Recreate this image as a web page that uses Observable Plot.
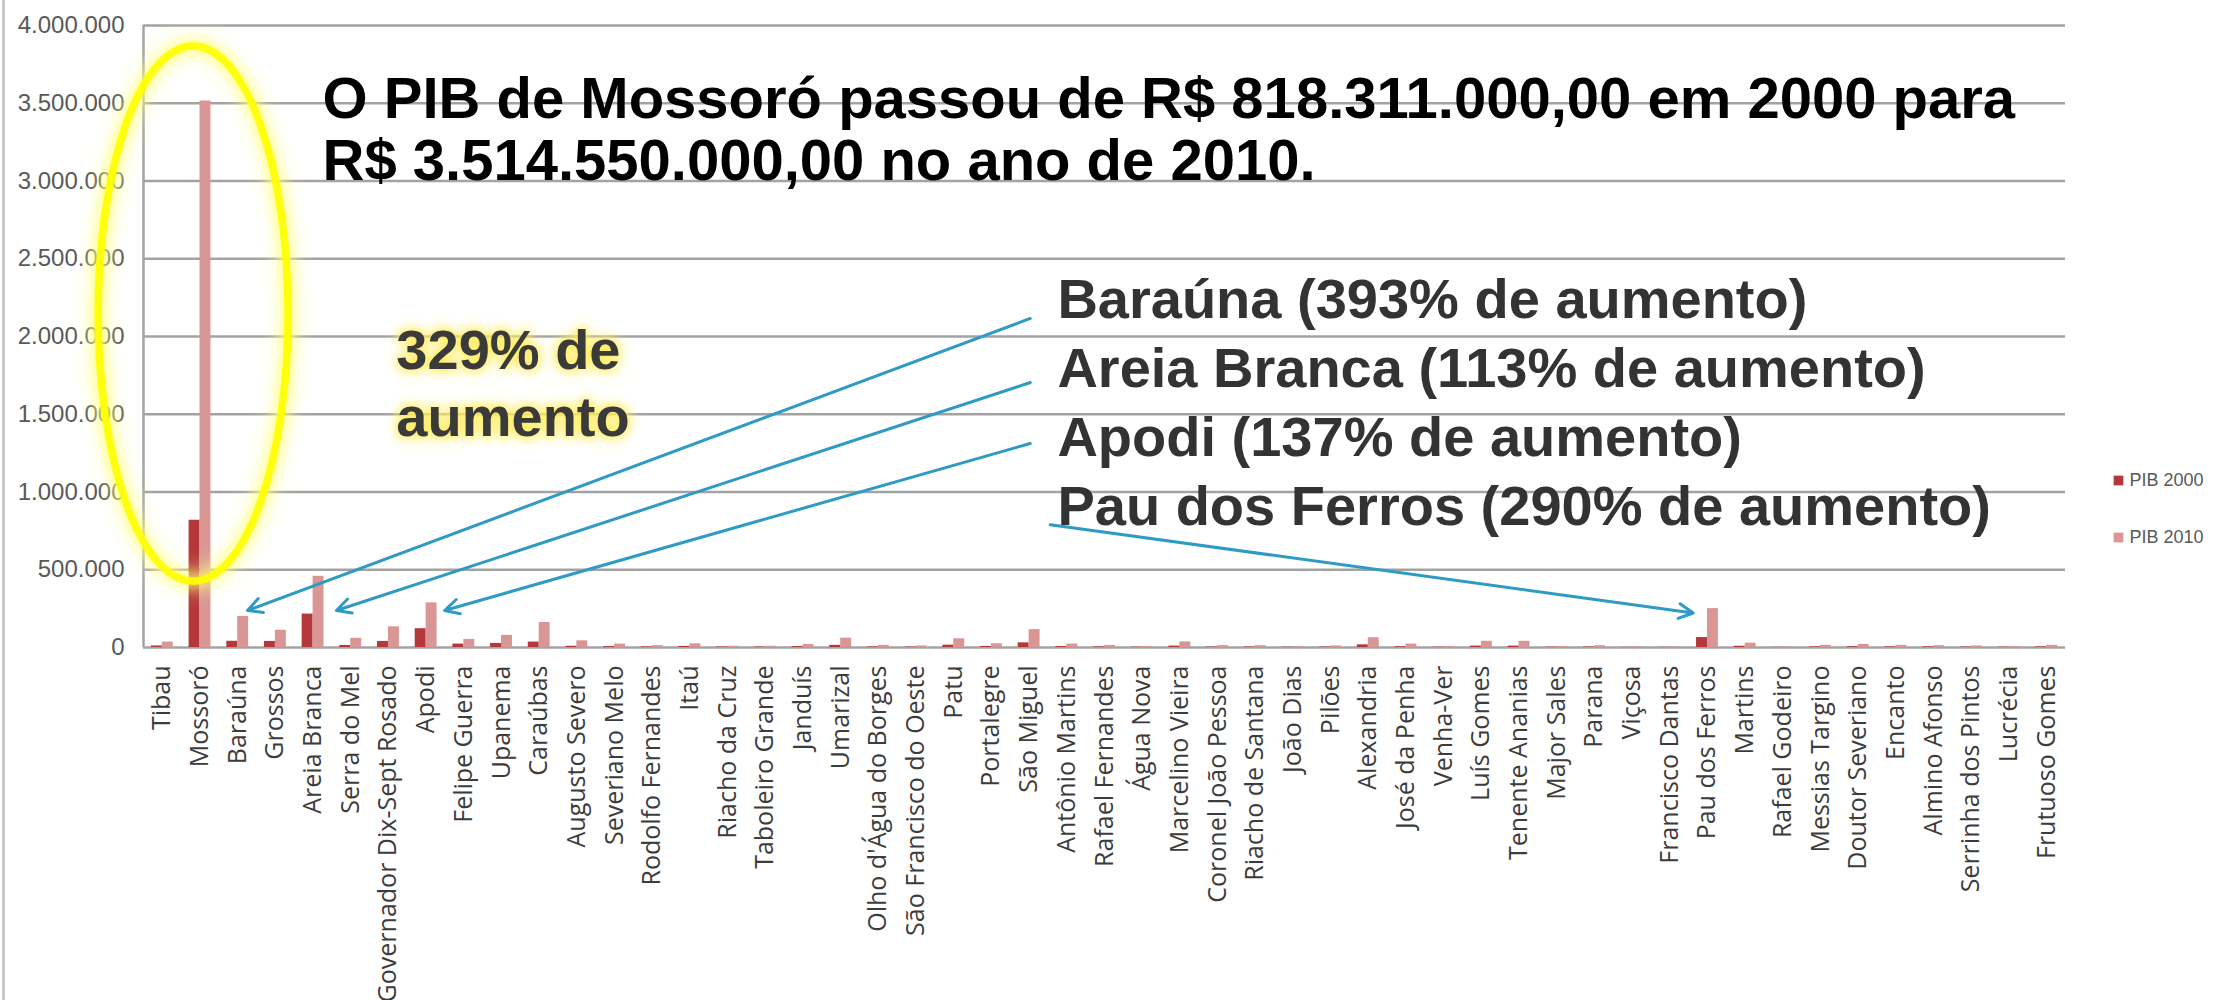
<!DOCTYPE html>
<html>
<head>
<meta charset="utf-8">
<script src="https://cdn.jsdelivr.net/npm/d3@7"></script>
<script src="https://cdn.jsdelivr.net/npm/@observablehq/plot@0.6"></script>
<style>
  html, body { margin: 0; padding: 0; background: #fff; }
  body::before { content: ""; position: fixed; left: 2px; top: 0; bottom: 0; width: 3px; background: #c9c9c9; }
  .glow-note text { filter: drop-shadow(0 0 4px #ffe94a) drop-shadow(0 0 7px #fff27a); }
  .glow-ring { filter: drop-shadow(0 0 6px #ffff55) drop-shadow(0 0 10px #ffffa0); }
</style>
</head>
<body>
<div id="chart"></div>
<script>
// ---- Data (R$ mil) ----
const cities = ["Tibau","Mossoró","Baraúna","Grossos","Areia Branca","Serra do Mel","Governador Dix-Sept Rosado","Apodi","Felipe Guerra","Upanema","Caraúbas","Augusto Severo","Severiano Melo","Rodolfo Fernandes","Itaú","Riacho da Cruz","Taboleiro Grande","Janduís","Umarizal","Olho d'Água do Borges","São Francisco do Oeste","Patu","Portalegre","São Miguel","Antônio Martins","Rafael Fernandes","Água Nova","Marcelino Vieira","Coronel João Pessoa","Riacho de Santana","João Dias","Pilões","Alexandria","José da Penha","Venha-Ver","Luís Gomes","Tenente Ananias","Major Sales","Parana","Viçosa","Francisco Dantas","Pau dos Ferros","Martins","Rafael Godeiro","Messias Targino","Doutor Severiano","Encanto","Almino Afonso","Serrinha dos Pintos","Lucrécia","Frutuoso Gomes"];
const pib2000 = [10000,818311,40000,39000,215000,13000,39000,121000,22000,26000,35000,8000,6000,4000,7000,3000,3000,6000,14000,4000,3000,15000,7000,30000,6000,4000,2000,9000,3000,3000,2000,3000,17000,5000,2000,9000,9000,2000,3000,1000,1000,64000,8000,1000,4000,5000,4000,4000,3000,2000,4000];
const pib2010 = [35000,3514550,200000,111000,458000,59000,133000,287000,52000,78000,161000,43000,22000,12000,24000,8000,8000,20000,60000,14000,10000,56000,24000,115000,22000,13000,6000,36000,12000,12000,6000,10000,63000,22000,6000,40000,40000,6000,12000,4000,4000,250000,28000,4000,14000,20000,14000,12000,10000,6000,14000];
const series = ["PIB 2000", "PIB 2010"];
const yTicks = [0, 500000, 1000000, 1500000, 2000000, 2500000, 3000000, 3500000, 4000000];

const mainNote = ["O PIB de Mossoró passou de R$ 818.311.000,00 em 2000 para", "R$ 3.514.550.000,00 no ano de 2010."];
const mossoroNote = ["329% de", "aumento"];
const growthNotes = ["Baraúna (393% de aumento)", "Areia Branca (113% de aumento)", "Apodi (137% de aumento)", "Pau dos Ferros (290% de aumento)"];

// ---- Build table ----
const rows = cities.flatMap((city, i) => [
  {i, city, serie: series[0], value: pib2000[i]},
  {i, city, serie: series[1], value: pib2010[i]}
]);
const colors = ["#b4373a", "#da9694"];
const fmt = d3.formatLocale({decimal: ",", thousands: ".", grouping: [3], currency: ["R$ ", ""]}).format(",d");

const half = 0.29;
const idx = name => cities.indexOf(name);

// arrows (data-space coordinates)
const arrows = [
  {x1: 23.03, y1: 2116000, x2: idx("Baraúna") + 0.26, y2: 238000},
  {x1: 23.03, y1: 1704000, x2: idx("Areia Branca") + 0.62, y2: 238000},
  {x1: 23.03, y1: 1312000, x2: idx("Apodi") + 0.49, y2: 238000},
  {x1: 23.56, y1: 790000, x2: idx("Pau dos Ferros") - 0.38, y2: 222000}
];

// yellow ring around Mossoró (function mark using Plot scales)
const ring = (index, scales) => {
  const x0 = scales.x(-1.69), x1 = scales.x(3.35);
  const yTop = scales.y(3865000), yBot = scales.y(424000);
  const e = d3.create("svg:ellipse")
    .attr("class", "glow-ring")
    .attr("cx", (x0 + x1) / 2).attr("cy", (yTop + yBot) / 2)
    .attr("rx", (x1 - x0) / 2).attr("ry", (yBot - yTop) / 2)
    .attr("fill", "none").attr("stroke", "#ffff00").attr("stroke-width", 7.5).attr("stroke-opacity", 0.92);
  return e.node();
};

const legendMarks = series.flatMap((s, k) => [
  Plot.dot([s], {frameAnchor: "right", dx: 53, dy: 144 + 57 * k, fill: colors[k], symbol: "square", r: 5.5}),
  Plot.text([s], {frameAnchor: "right", dx: 64, dy: 144 + 57 * k, text: d => d, textAnchor: "start", fontSize: 18, fontFamily: "Liberation Sans Narrow, Liberation Sans, Arial, sans-serif", fill: "#595959"})
]);

const chart = Plot.plot({
  width: 2215,
  height: 1000,
  marginLeft: 143,
  marginRight: 150,
  marginTop: 25,
  marginBottom: 353,
  style: {background: "white", overflow: "visible"},
  x: {type: "linear", domain: [-0.5, cities.length - 0.5]},
  y: {domain: [0, 4000000]},
  color: {domain: series, range: colors},
  marks: [
    Plot.ruleY(yTicks, {stroke: "#a3a3a3", strokeWidth: 2.5}),
    Plot.ruleX([-0.5], {y1: 0, y2: 4000000, stroke: "#a3a3a3", strokeWidth: 2.5}),
    Plot.rectY(rows, {
      x1: d => d.serie === series[0] ? d.i - half : d.i,
      x2: d => d.serie === series[0] ? d.i : d.i + half,
      y: "value",
      fill: "serie"
    }),
    Plot.axisY({ticks: yTicks, tickFormat: fmt, tickSize: 0, tickPadding: 19, fontSize: 24, fontFamily: "Liberation Sans, Arial, sans-serif", fill: "#595959", label: null}),
    Plot.axisX({ticks: cities.map((c, i) => i), tickFormat: i => cities[i], tickRotate: -90, tickSize: 0, tickPadding: 18, fontSize: 25, fontFamily: "Open Sans, sans-serif", fill: "#3c3c3c", label: null}),
    ring,
    Plot.text([mainNote.join("\n")], {x: 4.25, y: 3690000, text: d => d, textAnchor: "start", lineAnchor: "top", lineHeight: 1.07, fontSize: 58, fontWeight: "bold", fontFamily: "Liberation Sans, Arial, sans-serif", fill: "#000"}),
    Plot.text([mossoroNote.join("\n")], {x: 6.21, y: 2101000, text: d => d, textAnchor: "start", lineAnchor: "top", lineHeight: 1.2, fontSize: 56, fontWeight: "bold", fontFamily: "Liberation Sans, Arial, sans-serif", fill: "#3a3a3a", className: "glow-note"}),
    Plot.text([growthNotes.join("\n")], {x: 23.75, y: 2438000, text: d => d, textAnchor: "start", lineAnchor: "top", lineHeight: 1.236, fontSize: 56, fontWeight: "bold", fontFamily: "Liberation Sans, Arial, sans-serif", fill: "#333"}),
    Plot.arrow(arrows, {x1: "x1", y1: "y1", x2: "x2", y2: "y2", stroke: "#2f9bc4", strokeWidth: 3, headLength: 8, headAngle: 55}),
    ...legendMarks
  ]
});

document.getElementById("chart").append(chart);
</script>
</body>
</html>
